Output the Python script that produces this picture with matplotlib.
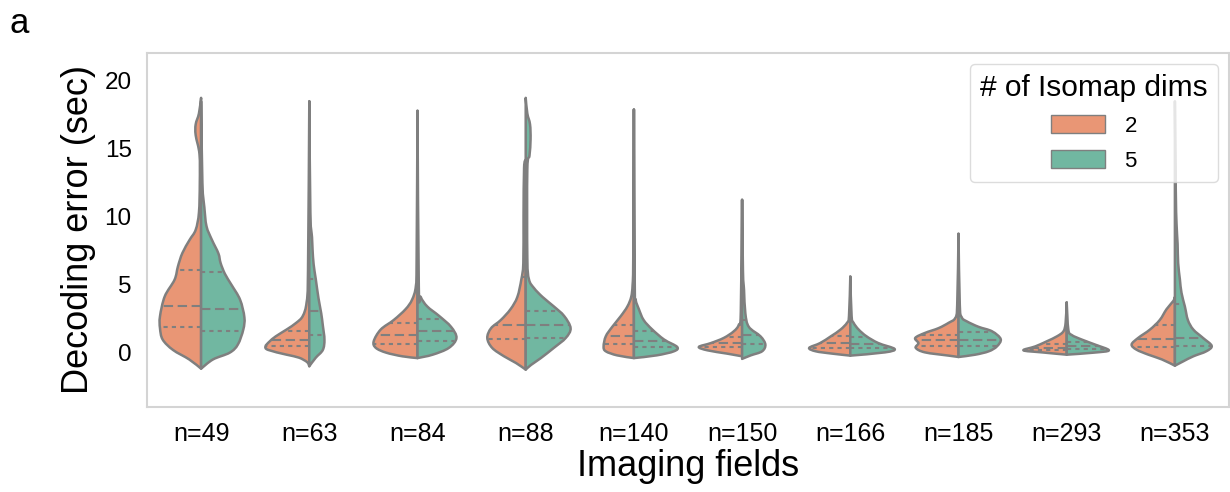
"""Split violins of decoding error per imaging-field count, 2 vs 5 Isomap dims."""

import matplotlib

matplotlib.use("Agg")
import matplotlib.pyplot as plt
import numpy as np
from matplotlib.patches import Patch, PathPatch
from matplotlib.path import Path

plt.rcParams["font.family"] = ["Liberation Sans", "DejaVu Sans"]

FIELD_COUNTS = [49, 63, 84, 88, 140, 150, 166, 185, 293, 353]
DIM_LABELS = ["2", "5"]

# Kernel-density outline of each half violin, as (decoding error, half-width)
# pairs running from the lower tip to the end of the upper tail.
DENSITY_2D = [
    [(-1.18, 0), (-0.5, 0.11), (0.2, 0.26), (0.96, 0.355), (1.8, 0.38), (2.67, 0.38),
     (4.14, 0.336), (5.37, 0.245), (6.35, 0.214), (7.33, 0.173), (8.3, 0.106),
     (9.04, 0.05), (10.3, 0.02), (12.5, 0.012), (14.6, 0.015), (16.0, 0.05),
     (16.8, 0.05), (17.6, 0.02), (18.75, 0)],
    [(-1.0, 0), (-0.7, 0.02), (-0.37, 0.095), (-0.15, 0.21), (0.2, 0.38), (0.46, 0.405),
     (0.8, 0.37), (1.2, 0.31), (1.7, 0.21), (2.2, 0.12), (2.7, 0.06), (3.7, 0.025),
     (6.0, 0.012), (18.5, 0)],
    [(-0.4, 0), (-0.27, 0.14), (0.0, 0.29), (0.35, 0.385), (0.83, 0.405), (1.7, 0.34),
     (2.4, 0.22), (3.2, 0.11), (3.9, 0.05), (4.9, 0.015), (7.0, 0.008), (17.8, 0)],
    [(-1.25, 0), (-0.76, 0.09), (-0.27, 0.2), (0.35, 0.31), (1.08, 0.355), (1.8, 0.32),
     (2.4, 0.23), (3.2, 0.14), (4.1, 0.077), (5.4, 0.04), (6.6, 0.022), (10.0, 0.02),
     (13.6, 0.015), (14.2, 0)],
    [(-0.4, 0), (-0.2, 0.155), (0.1, 0.26), (0.46, 0.28), (1.2, 0.26), (1.9, 0.2),
     (2.7, 0.12), (3.4, 0.06), (4.1, 0.025), (5.0, 0.012), (7.0, 0.006), (17.9, 0)],
    [(-0.27, 0), (-0.07, 0.14), (0.17, 0.32), (0.42, 0.4), (0.7, 0.29), (1.08, 0.17),
     (1.57, 0.077), (2.06, 0.03), (3.0, 0.012), (11.25, 0)],
    [(-0.22, 0), (-0.07, 0.17), (0.1, 0.32), (0.35, 0.38), (0.7, 0.28), (1.2, 0.18),
     (1.7, 0.09), (2.2, 0.03), (2.7, 0.012), (5.6, 0)],
    [(-0.32, 0), (-0.22, 0.09), (0.02, 0.31), (0.35, 0.395), (0.7, 0.37), (1.08, 0.4),
     (1.45, 0.31), (1.8, 0.185), (2.2, 0.09), (2.55, 0.03), (3.5, 0.012), (8.75, 0)],
    [(-0.15, 0), (0.02, 0.23), (0.17, 0.4), (0.46, 0.29), (0.83, 0.185), (1.2, 0.09),
     (1.57, 0.03), (2.2, 0.01), (3.7, 0)],
    [(-0.96, 0), (-0.5, 0.12), (-0.15, 0.245), (0.22, 0.355), (0.6, 0.4), (1.08, 0.34),
     (1.7, 0.23), (2.4, 0.14), (3.2, 0.077), (3.8, 0.015), (4.1, 0)],
]
DENSITY_5D = [
    [(-1.18, 0), (-0.5, 0.11), (0.0, 0.265), (0.6, 0.34), (1.7, 0.39), (2.6, 0.40),
     (3.9, 0.36), (5.0, 0.28), (5.8, 0.22), (6.6, 0.18), (7.3, 0.16), (8.3, 0.1),
     (9.3, 0.05), (10.7, 0.03), (12.5, 0.012), (18.5, 0)],
    [(-1.0, 0), (-0.37, 0.06), (0.2, 0.125), (0.96, 0.14), (2.0, 0.125), (2.9, 0.11),
     (4.0, 0.085), (5.4, 0.06), (6.5, 0.04), (7.6, 0.03), (8.5, 0.025), (10.3, 0.01),
     (18.5, 0)],
    [(-0.4, 0), (-0.15, 0.14), (0.35, 0.29), (1.08, 0.36), (1.9, 0.31), (2.7, 0.2),
     (3.4, 0.09), (4.1, 0.03), (4.9, 0.012), (17.8, 0)],
    [(-1.25, 0), (-0.9, 0.05), (-0.4, 0.14), (0.35, 0.26), (1.08, 0.37), (1.8, 0.415),
     (2.7, 0.355), (3.4, 0.26), (4.1, 0.155), (4.75, 0.077), (5.4, 0.03), (7.0, 0.015),
     (13.5, 0.015), (14.5, 0.035), (15.7, 0.045), (16.8, 0.04), (17.6, 0.015), (18.75, 0)],
    [(-0.4, 0), (-0.2, 0.21), (0.1, 0.37), (0.42, 0.4), (0.96, 0.28), (1.7, 0.17),
     (2.4, 0.09), (3.2, 0.046), (3.9, 0.016), (5.0, 0.008), (17.9, 0)],
    [(-0.46, 0), (-0.2, 0.08), (0.1, 0.185), (0.6, 0.215), (1.2, 0.17), (1.9, 0.062),
     (2.9, 0.03), (4.6, 0.018), (6.0, 0.008), (11.25, 0)],
    [(-0.22, 0), (0.02, 0.32), (0.27, 0.41), (0.7, 0.26), (1.2, 0.15), (1.7, 0.077),
     (2.2, 0.03), (2.7, 0.012), (5.6, 0)],
    [(-0.32, 0), (-0.15, 0.155), (0.1, 0.28), (0.46, 0.355), (1.0, 0.39), (1.57, 0.31),
     (1.9, 0.185), (2.3, 0.077), (2.6, 0.03), (3.5, 0.012), (8.75, 0)],
    [(-0.15, 0), (0.0, 0.25), (0.17, 0.39), (0.6, 0.26), (0.96, 0.14), (1.3, 0.046),
     (1.7, 0.015), (3.7, 0)],
    [(-0.96, 0), (-0.64, 0.077), (-0.27, 0.17), (0.1, 0.29), (0.5, 0.34), (1.08, 0.26),
     (1.7, 0.17), (2.4, 0.12), (3.4, 0.092), (4.4, 0.061), (5.4, 0.046), (6.6, 0.03),
     (8.0, 0.025), (9.5, 0.015), (12.0, 0.008), (18.5, 0)],
]

# (25th, 50th, 75th percentile) of decoding error per field count
QUARTILES_2D = [(1.9, 3.45, 6.1), (0.5, 0.96, 1.6), (0.66, 1.3, 2.2), (1.0, 2.06, 5.6),
                (0.6, 1.2, 2.06), (0.42, 0.7, 1.15), (0.35, 0.7, 1.25), (0.46, 0.96, 1.3),
                (0.17, 0.35, 0.6), (0.42, 1.0, 2.0)]
QUARTILES_5D = [(1.6, 3.2, 5.9), (1.3, 3.1, 5.45), (0.83, 1.6, 2.5), (1.08, 2.0, 3.04),
                (0.42, 0.83, 1.6), (0.66, 1.3, 2.4), (0.35, 0.66, 1.15), (0.46, 0.96, 1.5),
                (0.27, 0.46, 0.76), (0.46, 1.08, 3.6)]

COLORS = ["#e99675", "#71b7a1"]
EDGE = "#7f7f7f"
LW = 1.8


def _half_path(center: float, knots, side: int) -> Path:
    """Closed outline of one half violin; the outer edge is a Catmull-Rom curve."""
    pts = np.array([(center + side * w, y) for y, w in knots], dtype=float)
    padded = np.vstack([pts[0], pts, pts[-1]])
    verts = [pts[0]]
    codes = [Path.MOVETO]
    for i in range(len(pts) - 1):
        p0, p1, p2, p3 = padded[i], padded[i + 1], padded[i + 2], padded[i + 3]
        c1 = p1 + (p2 - p0) / 6.0
        c2 = p2 - (p3 - p1) / 6.0
        # keep the control points on the outer side of the centre line
        for c in (c1, c2):
            c[0] = center + side * max(0.0, side * (c[0] - center))
        verts += [c1, c2, p2]
        codes += [Path.CURVE4] * 3
    verts += [pts[0], pts[0]]
    codes += [Path.LINETO, Path.CLOSEPOLY]
    return Path(verts, codes)


def _draw_half(ax, center, knots, quartiles, side, color):
    ax.add_patch(PathPatch(_half_path(center, knots, side), facecolor=color,
                           edgecolor=EDGE, lw=LW, zorder=2, joinstyle="round"))
    ys = [k[0] for k in knots]
    ws = [k[1] for k in knots]
    for q, dashes in zip(quartiles, [(2.0, 2.0), (4.5, 2.2), (2.0, 2.0)]):
        w = float(np.interp(q, ys, ws))
        ax.plot([center, center + side * w], [q, q], color=EDGE, lw=1.5,
                dashes=dashes, zorder=3, solid_capstyle="butt")


fig = plt.figure(figsize=(12.3, 4.92), dpi=100)
ax = fig.add_axes([147 / 1230, 85 / 492, 1082 / 1230, 354 / 492])

for i in range(len(FIELD_COUNTS)):
    _draw_half(ax, i, DENSITY_2D[i], QUARTILES_2D[i], -1, COLORS[0])
    _draw_half(ax, i, DENSITY_5D[i], QUARTILES_5D[i], 1, COLORS[1])

ax.set_xlim(-0.5, len(FIELD_COUNTS) - 0.5)
ax.set_ylim(-4.0, 22.05)
ax.set_xticks(range(len(FIELD_COUNTS)))
ax.set_xticklabels([f"n={n}" for n in FIELD_COUNTS], fontsize=18)
ax.set_yticks([0, 5, 10, 15, 20])
ax.tick_params(axis="y", labelsize=17.5, length=0, pad=11)
ax.tick_params(axis="x", length=0, pad=11)
for spine in ax.spines.values():
    spine.set_color("#d4d4d4")
    spine.set_linewidth(1.5)

ax.set_xlabel("Imaging fields", fontsize=26, labelpad=2)
ax.set_ylabel("Decoding error (sec)", fontsize=26, labelpad=6)

handles = [Patch(facecolor=c, edgecolor=EDGE, label=lab) for c, lab in zip(COLORS, DIM_LABELS)]
ax.legend(handles=handles, title="# of Isomap dims", loc="upper right", fontsize=16,
          title_fontsize=21.5, frameon=True, edgecolor="#d4d4d4", fancybox=True,
          borderaxespad=0.5, handlelength=2.4, handleheight=0.85, handletextpad=0.9,
          labelspacing=0.6, borderpad=0.45)

fig.text(0.008, 0.985, "a", fontsize=25, va="top", ha="left")

fig.savefig("out.png", dpi=100)
